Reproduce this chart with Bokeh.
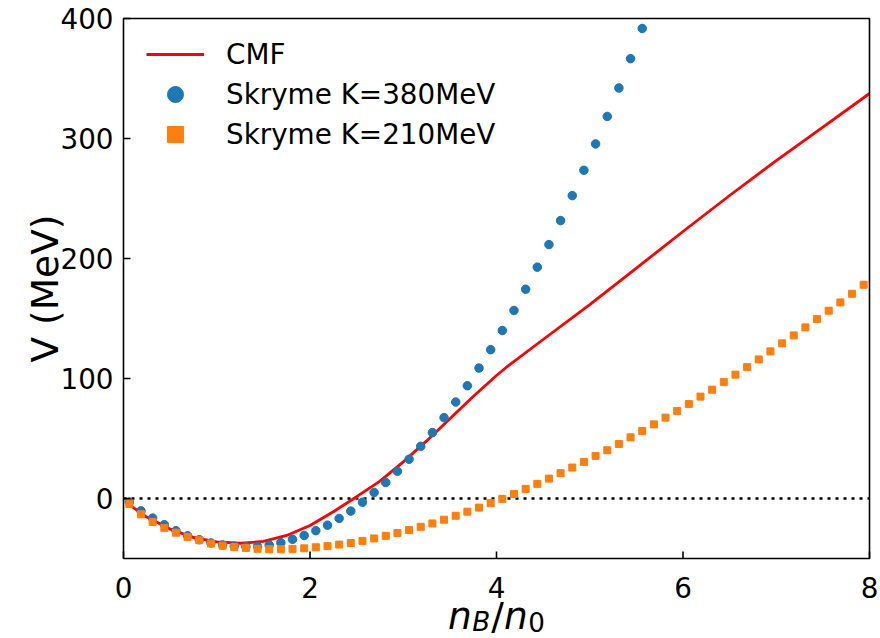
import math
from bokeh.plotting import figure
from bokeh.models import Range1d, Legend, LegendItem
from bokeh.core.properties import value
from bokeh.embed import file_html
from bokeh.resources import INLINE

# density grid n_B/n_0 of the Skyrme points
density = [0.0625, 0.1875, 0.3125, 0.4375, 0.5625, 0.6875, 0.8125, 0.9375,
           1.0625, 1.1875, 1.3125, 1.4375, 1.5625, 1.6875, 1.8125, 1.9375,
           2.0625, 2.1875, 2.3125, 2.4375, 2.5625, 2.6875, 2.8125, 2.9375,
           3.0625, 3.1875, 3.3125, 3.4375, 3.5625, 3.6875, 3.8125, 3.9375,
           4.0625, 4.1875, 4.3125, 4.4375, 4.5625, 4.6875, 4.8125, 4.9375,
           5.0625, 5.1875, 5.3125, 5.4375, 5.5625, 5.6875, 5.8125, 5.9375,
           6.0625, 6.1875, 6.3125, 6.4375, 6.5625, 6.6875, 6.8125, 6.9375,
           7.0625, 7.1875, 7.3125, 7.4375, 7.5625, 7.6875, 7.8125, 7.9375]

skyrme_380 = [-3.0, -10.3, -16.3, -21.8, -26.8, -31.1, -34.3, -37.0, -38.7, -39.8,
              -40.2, -40.0, -38.8, -36.8, -34.0, -30.8, -26.8, -22.2, -16.6, -10.5,
              -3.1, 5.0, 13.3, 22.7, 32.7, 43.5, 54.9, 67.4, 80.4, 94.0,
              108.7, 124.0, 140.0, 156.7, 174.4, 192.8, 211.6, 231.6, 252.4, 273.5,
              295.5, 318.4, 342.1, 366.5, 391.7]

skyrme_210 = [-4.5, -13.2, -19.5, -24.5, -28.5, -32.0, -34.8, -37.5, -39.3, -40.4,
              -41.2, -41.9, -42.3, -42.3, -42.0, -41.5, -40.6, -39.7, -38.4, -37.1,
              -35.3, -33.3, -31.1, -28.8, -26.3, -23.6, -20.8, -17.7, -14.4, -11.0,
              -7.6, -3.9, -0.3, 3.8, 8.0, 12.2, 16.6, 21.1, 25.8, 30.5,
              35.5, 40.2, 45.4, 51.0, 56.3, 61.8, 67.4, 72.9, 78.7, 84.9,
              90.7, 97.0, 103.2, 109.5, 115.9, 122.6, 129.3, 135.9, 142.6, 149.5,
              156.5, 163.4, 170.6, 178.1]

cmf_x = [0.05, 0.25, 0.5, 0.75, 1.0, 1.25, 1.5, 1.75, 2.0, 2.25, 2.5, 2.75, 3.0,
         3.25, 3.5, 3.75, 4.0, 4.1, 4.5, 5.0, 5.5, 6.0, 6.5, 7.0, 7.5, 8.0]
cmf_v = [-4.5, -15.5, -25.5, -32.5, -36.2, -37.3, -35.8, -30.8, -22.5, -11.0, 1.5, 14.5, 30.5,
         48.0, 66.5, 85.0, 102.5, 109.0, 132.5, 161.5, 192.0, 222.5, 252.5, 281.5, 309.5, 337.5]

x_ticks = [0, 2, 4, 6, 8]
x_tick_labels = ["0", "2", "4", "6", "8"]
y_ticks = [0, 100, 200, 300, 400]
y_tick_labels = ["0", "100", "200", "300", "400"]

X_MIN, X_MAX = 0, 8
Y_MIN, Y_MAX = -50, 400

FONT = "DejaVu Sans"
TICK_SIZE = "27.8px"
LABEL_SIZE = "37.5px"
SUB_SIZE = "26.2px"

W, H = 880, 638
# where the axes box sits on the canvas (pixels)
BOX_L, BOX_R, BOX_T, BOX_B = 123, 869, 18, 558
PX_X = (BOX_R - BOX_L) / (X_MAX - X_MIN)
PX_Y = (BOX_B - BOX_T) / (Y_MAX - Y_MIN)
TICK_LEN = 7
LW = 1.6

# the figure's drawing area covers the whole canvas; the box is drawn inside it
p = figure(width=W, height=H, output_backend="svg", toolbar_location=None,
           x_range=Range1d(X_MIN - BOX_L / PX_X, X_MAX + (W - BOX_R) / PX_X),
           y_range=Range1d(Y_MIN - (H - BOX_B) / PX_Y, Y_MAX + BOX_T / PX_Y),
           x_axis_location=None, y_axis_location=None,
           min_border=0, min_border_left=0, min_border_right=0,
           min_border_top=0, min_border_bottom=0)
p.background_fill_color = "white"
p.border_fill_color = "white"
p.outline_line_color = None
p.grid.visible = False


def px_to_x(px):
    return X_MIN + (px - BOX_L) / PX_X


def px_to_y(py):
    return Y_MIN - (py - BOX_B) / PX_Y


# dotted zero line
p.line([X_MIN, X_MAX], [0, 0], line_color="black", line_width=2.7, line_dash="3 5")

# data
r_cmf = p.line(cmf_x, cmf_v, line_color="#ff0000", line_width=2.8)
# smaller copies (hidden under the real markers) that give the legend its smaller markers
leg_380 = p.scatter(density[:len(skyrme_380)], skyrme_380, marker="circle", size=7,
                    fill_color="#1f77b4", line_color="#1f77b4")
leg_210 = p.scatter(density, skyrme_210, marker="square", size=5.5,
                    fill_color="#ff7f0e", line_color="#ff7f0e")
r_380 = p.scatter(density[:len(skyrme_380)], skyrme_380, marker="circle", size=8.5,
                  fill_color="#1f77b4", line_color="#1f77b4")
r_210 = p.scatter(density, skyrme_210, marker="square", size=7,
                  fill_color="#ff7f0e", line_color="#ff7f0e")

# axes box
p.quad(left=[X_MIN], right=[X_MAX], bottom=[Y_MIN], top=[Y_MAX],
       fill_color=None, line_color="black", line_width=LW)

# inward ticks
p.segment(x0=x_ticks, y0=[Y_MIN] * len(x_ticks), x1=x_ticks,
          y1=[Y_MIN + TICK_LEN / PX_Y] * len(x_ticks), line_color="black", line_width=LW)
p.segment(x0=[X_MIN] * len(y_ticks), y0=y_ticks, x1=[X_MIN + TICK_LEN / PX_X] * len(y_ticks),
          y1=y_ticks, line_color="black", line_width=LW)

# tick labels
p.text(x=x_ticks, y=[px_to_y(587)] * len(x_ticks), text=x_tick_labels,
       text_font=value(FONT), text_font_size=value(TICK_SIZE), text_color="black",
       text_align="center", text_baseline="alphabetic")
p.text(x=[px_to_x(BOX_L - 10)] * len(y_ticks), y=y_ticks, text=y_tick_labels,
       text_font=value(FONT), text_font_size=value(TICK_SIZE), text_color="black",
       text_align="right", text_baseline="middle")

# y axis label (rotated, baseline on its right side)
p.text(x=[px_to_x(44)], y=[(Y_MIN + Y_MAX) / 2], text=["V (MeV)"], angle=math.pi / 2,
       text_font=value(FONT), text_font_size=value(LABEL_SIZE), text_color="black",
       text_align="center", text_baseline="alphabetic")

# x axis label  n_B / n_0
xc_px = (BOX_L + BOX_R) / 2
BASE_PX, SUB_PX = 615, 621
pieces = [("n", -48.5, "italic", LABEL_SIZE, BASE_PX),
          ("B", -24.2, "italic", SUB_SIZE, SUB_PX),
          ("/", -5.2, "normal", LABEL_SIZE, BASE_PX),
          ("n", 7.4, "italic", LABEL_SIZE, BASE_PX),
          ("0", 31.7, "normal", SUB_SIZE, SUB_PX)]
for txt, dx, style, size, py in pieces:
    p.text(x=[px_to_x(xc_px + dx)], y=[px_to_y(py)], text=[txt], text_font=value(FONT),
           text_font_size=value(size), text_font_style=value(style), text_color="black",
           text_align="left", text_baseline="alphabetic")

legend = Legend(items=[LegendItem(label="CMF", renderers=[r_cmf]),
                       LegendItem(label="Skryme K=380MeV", renderers=[leg_380]),
                       LegendItem(label="Skryme K=210MeV", renderers=[leg_210])],
                location=(146, H - 154.4))
legend.label_text_font = FONT
legend.label_text_font_size = TICK_SIZE
legend.label_text_color = "black"
legend.glyph_width = 58
legend.glyph_height = 40
legend.label_height = 40
legend.label_standoff = 22
legend.spacing = 0
legend.padding = 0
legend.margin = 0
legend.border_line_alpha = 0
legend.background_fill_alpha = 0
p.add_layout(legend)

open("out.html", "w").write(file_html(p, INLINE))
